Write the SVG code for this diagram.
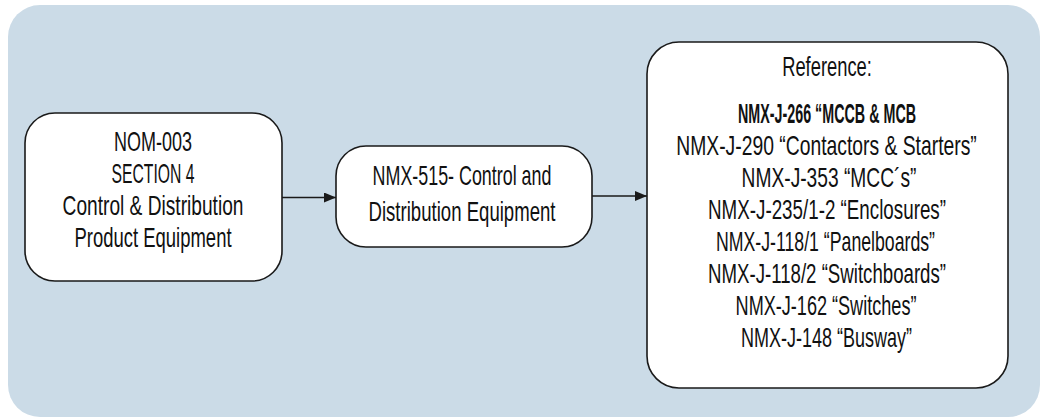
<svg xmlns="http://www.w3.org/2000/svg" width="1044" height="418" viewBox="0 0 1044 418">
  <style>
    .panel { fill: #cbdbe7; }
    .node { fill: #ffffff; stroke: #1a1a1a; stroke-width: 1.6; }
    .label { font-family: "Liberation Sans", Arial, sans-serif; font-size: 28px; fill: #111111; text-anchor: middle; }
    .strong { font-weight: bold; }
    .edge { stroke: #1a1a1a; stroke-width: 1.6; fill: none; }
  </style>
  <defs>
    <marker id="arrow" viewBox="0 0 12 10" refX="12" refY="5" markerWidth="12" markerHeight="10" markerUnits="userSpaceOnUse" orient="auto">
      <path d="M0,0 L12,5 L0,10 Z" fill="#1a1a1a"/>
    </marker>
  </defs>

  <!-- background panel -->
  <rect class="panel" x="8" y="5" width="1032" height="412" rx="32" ry="32"/>

  <!-- connectors -->
  <g id="connectors">
    <line class="edge" x1="282" y1="197.5" x2="336" y2="197.5" marker-end="url(#arrow)"/>
    <line class="edge" x1="592" y1="196" x2="647" y2="196" marker-end="url(#arrow)"/>
  </g>

  <!-- labels use a horizontally condensed sans (scale 0.68 on x) -->

  <!-- NOM-003 source node -->
  <g id="node-nom003">
    <rect class="node" x="25" y="113" width="257" height="168" rx="30" ry="30"/>
    <text class="label" transform="translate(153,151) scale(0.68,1)" textLength="114.7" lengthAdjust="spacingAndGlyphs">NOM-003</text>
    <text class="label" transform="translate(153,183) scale(0.68,1)" textLength="122" lengthAdjust="spacingAndGlyphs">SECTION 4</text>
    <text class="label" transform="translate(153,215) scale(0.68,1)" textLength="266" lengthAdjust="spacingAndGlyphs">Control &amp; Distribution</text>
    <text class="label" transform="translate(153,247) scale(0.68,1)" textLength="231" lengthAdjust="spacingAndGlyphs">Product Equipment</text>
  </g>

  <!-- NMX-515 node -->
  <g id="node-nmx515">
    <rect class="node" x="336" y="146" width="256" height="101" rx="30" ry="30"/>
    <text class="label" transform="translate(462,185) scale(0.68,1)" textLength="263" lengthAdjust="spacingAndGlyphs">NMX-515- Control and</text>
    <text class="label" transform="translate(462,221) scale(0.68,1)" textLength="275" lengthAdjust="spacingAndGlyphs">Distribution Equipment</text>
  </g>

  <!-- reference standards node -->
  <g id="node-reference">
    <rect class="node" x="647" y="42" width="361" height="346" rx="32" ry="32"/>
    <text class="label" transform="translate(827,76) scale(0.68,1)" textLength="132" lengthAdjust="spacingAndGlyphs">Reference:</text>
    <text class="label strong" transform="translate(827,123) scale(0.68,1)" textLength="262" lengthAdjust="spacingAndGlyphs">NMX-J-266 “MCCB &amp; MCB</text>
    <text class="label" transform="translate(826.5,155) scale(0.68,1)" textLength="442" lengthAdjust="spacingAndGlyphs">NMX-J-290 “Contactors &amp; Starters”</text>
    <text class="label" transform="translate(829,187) scale(0.68,1)" textLength="257" lengthAdjust="spacingAndGlyphs">NMX-J-353 “MCC´s”</text>
    <text class="label" transform="translate(827,219) scale(0.68,1)" textLength="350" lengthAdjust="spacingAndGlyphs">NMX-J-235/1-2 “Enclosures”</text>
    <text class="label" transform="translate(825.5,251) scale(0.68,1)" textLength="322" lengthAdjust="spacingAndGlyphs">NMX-J-118/1 “Panelboards”</text>
    <text class="label" transform="translate(827,283) scale(0.68,1)" textLength="350" lengthAdjust="spacingAndGlyphs">NMX-J-118/2 “Switchboards”</text>
    <text class="label" transform="translate(826,315) scale(0.68,1)" textLength="266" lengthAdjust="spacingAndGlyphs">NMX-J-162 “Switches”</text>
    <text class="label" transform="translate(826.5,347) scale(0.68,1)" textLength="251.5" lengthAdjust="spacingAndGlyphs">NMX-J-148 “Busway”</text>
  </g>
</svg>
